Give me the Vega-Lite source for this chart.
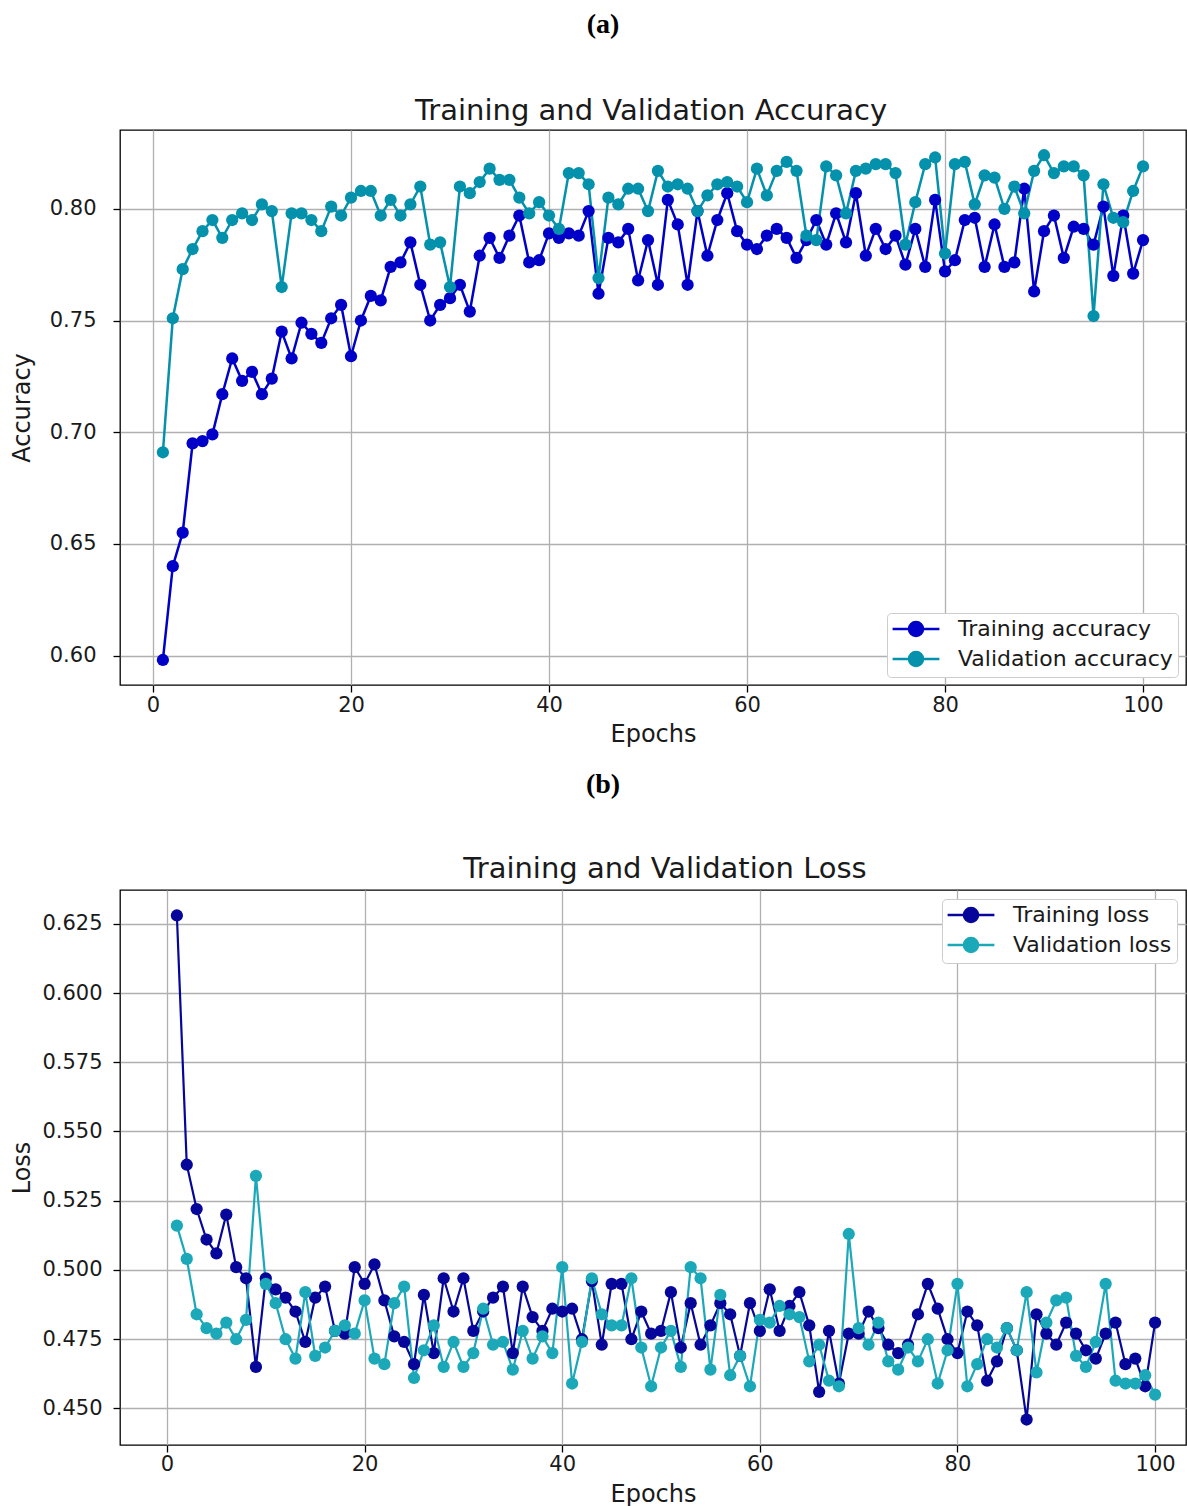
{
  "$schema": "https://vega.github.io/schema/vega-lite/v6.json",
  "padding": {"left": 9, "top": 11, "right": 0, "bottom": 0},
  "background": "white",
  "columns": 1,
  "spacing": 24,
  "resolve": {"scale": {"color": "independent", "x": "independent", "y": "independent"}, "legend": {"color": "independent"}},
  "config": {
    "font": "DejaVu Sans",
    "view": {"stroke": "black", "strokeWidth": 1.3},
    "axis": {"grid": true, "gridColor": "#b0b0b0", "gridWidth": 1.3, "gridOpacity": 1, "domain": false, "tickColor": "black", "tickSize": 7, "tickWidth": 1.3, "labelFontSize": 21, "labelColor": "#1a1a1a", "labelFont": "DejaVu Sans", "titleFontSize": 24, "titleFontWeight": "normal", "titleColor": "#1a1a1a", "titleFont": "DejaVu Sans", "labelFlush": false},
    "legend": {"title": null, "labelFontSize": 22, "labelFont": "DejaVu Sans", "labelColor": "#1a1a1a", "labelLimit": 0, "padding": 5, "strokeColor": "#cccccc", "fillColor": "white", "cornerRadius": 4, "rowPadding": 4, "labelOffset": 31, "symbolOffset": 13, "symbolStrokeWidth": 2.5, "symbolSize": 324, "symbolType": "M-2.6,0L2.6,0M-0.78,0A0.78,0.78,0,1,0,0.78,0A0.78,0.78,0,1,0,-0.78,0"}
  },
  "datasets": {
    "acc": [
      {"epoch":1,"value":0.598,"series":"Training accuracy"},{"epoch":2,"value":0.640,"series":"Training accuracy"},{"epoch":3,"value":0.655,"series":"Training accuracy"},{"epoch":4,"value":0.695,"series":"Training accuracy"},{"epoch":5,"value":0.696,"series":"Training accuracy"},{"epoch":6,"value":0.699,"series":"Training accuracy"},{"epoch":7,"value":0.717,"series":"Training accuracy"},{"epoch":8,"value":0.733,"series":"Training accuracy"},{"epoch":9,"value":0.723,"series":"Training accuracy"},{"epoch":10,"value":0.727,"series":"Training accuracy"},
      {"epoch":11,"value":0.717,"series":"Training accuracy"},{"epoch":12,"value":0.724,"series":"Training accuracy"},{"epoch":13,"value":0.745,"series":"Training accuracy"},{"epoch":14,"value":0.733,"series":"Training accuracy"},{"epoch":15,"value":0.749,"series":"Training accuracy"},{"epoch":16,"value":0.744,"series":"Training accuracy"},{"epoch":17,"value":0.740,"series":"Training accuracy"},{"epoch":18,"value":0.751,"series":"Training accuracy"},{"epoch":19,"value":0.757,"series":"Training accuracy"},{"epoch":20,"value":0.734,"series":"Training accuracy"},
      {"epoch":21,"value":0.750,"series":"Training accuracy"},{"epoch":22,"value":0.761,"series":"Training accuracy"},{"epoch":23,"value":0.759,"series":"Training accuracy"},{"epoch":24,"value":0.774,"series":"Training accuracy"},{"epoch":25,"value":0.776,"series":"Training accuracy"},{"epoch":26,"value":0.785,"series":"Training accuracy"},{"epoch":27,"value":0.766,"series":"Training accuracy"},{"epoch":28,"value":0.750,"series":"Training accuracy"},{"epoch":29,"value":0.757,"series":"Training accuracy"},{"epoch":30,"value":0.760,"series":"Training accuracy"},
      {"epoch":31,"value":0.766,"series":"Training accuracy"},{"epoch":32,"value":0.754,"series":"Training accuracy"},{"epoch":33,"value":0.779,"series":"Training accuracy"},{"epoch":34,"value":0.787,"series":"Training accuracy"},{"epoch":35,"value":0.778,"series":"Training accuracy"},{"epoch":36,"value":0.788,"series":"Training accuracy"},{"epoch":37,"value":0.797,"series":"Training accuracy"},{"epoch":38,"value":0.776,"series":"Training accuracy"},{"epoch":39,"value":0.777,"series":"Training accuracy"},{"epoch":40,"value":0.789,"series":"Training accuracy"},
      {"epoch":41,"value":0.787,"series":"Training accuracy"},{"epoch":42,"value":0.789,"series":"Training accuracy"},{"epoch":43,"value":0.788,"series":"Training accuracy"},{"epoch":44,"value":0.799,"series":"Training accuracy"},{"epoch":45,"value":0.762,"series":"Training accuracy"},{"epoch":46,"value":0.787,"series":"Training accuracy"},{"epoch":47,"value":0.785,"series":"Training accuracy"},{"epoch":48,"value":0.791,"series":"Training accuracy"},{"epoch":49,"value":0.768,"series":"Training accuracy"},{"epoch":50,"value":0.786,"series":"Training accuracy"},
      {"epoch":51,"value":0.766,"series":"Training accuracy"},{"epoch":52,"value":0.804,"series":"Training accuracy"},{"epoch":53,"value":0.793,"series":"Training accuracy"},{"epoch":54,"value":0.766,"series":"Training accuracy"},{"epoch":55,"value":0.799,"series":"Training accuracy"},{"epoch":56,"value":0.779,"series":"Training accuracy"},{"epoch":57,"value":0.795,"series":"Training accuracy"},{"epoch":58,"value":0.807,"series":"Training accuracy"},{"epoch":59,"value":0.790,"series":"Training accuracy"},{"epoch":60,"value":0.784,"series":"Training accuracy"},
      {"epoch":61,"value":0.782,"series":"Training accuracy"},{"epoch":62,"value":0.788,"series":"Training accuracy"},{"epoch":63,"value":0.791,"series":"Training accuracy"},{"epoch":64,"value":0.787,"series":"Training accuracy"},{"epoch":65,"value":0.778,"series":"Training accuracy"},{"epoch":66,"value":0.786,"series":"Training accuracy"},{"epoch":67,"value":0.795,"series":"Training accuracy"},{"epoch":68,"value":0.784,"series":"Training accuracy"},{"epoch":69,"value":0.798,"series":"Training accuracy"},{"epoch":70,"value":0.785,"series":"Training accuracy"},
      {"epoch":71,"value":0.807,"series":"Training accuracy"},{"epoch":72,"value":0.779,"series":"Training accuracy"},{"epoch":73,"value":0.791,"series":"Training accuracy"},{"epoch":74,"value":0.782,"series":"Training accuracy"},{"epoch":75,"value":0.788,"series":"Training accuracy"},{"epoch":76,"value":0.775,"series":"Training accuracy"},{"epoch":77,"value":0.791,"series":"Training accuracy"},{"epoch":78,"value":0.774,"series":"Training accuracy"},{"epoch":79,"value":0.804,"series":"Training accuracy"},{"epoch":80,"value":0.772,"series":"Training accuracy"},
      {"epoch":81,"value":0.777,"series":"Training accuracy"},{"epoch":82,"value":0.795,"series":"Training accuracy"},{"epoch":83,"value":0.796,"series":"Training accuracy"},{"epoch":84,"value":0.774,"series":"Training accuracy"},{"epoch":85,"value":0.793,"series":"Training accuracy"},{"epoch":86,"value":0.774,"series":"Training accuracy"},{"epoch":87,"value":0.776,"series":"Training accuracy"},{"epoch":88,"value":0.809,"series":"Training accuracy"},{"epoch":89,"value":0.763,"series":"Training accuracy"},{"epoch":90,"value":0.790,"series":"Training accuracy"},
      {"epoch":91,"value":0.797,"series":"Training accuracy"},{"epoch":92,"value":0.778,"series":"Training accuracy"},{"epoch":93,"value":0.792,"series":"Training accuracy"},{"epoch":94,"value":0.791,"series":"Training accuracy"},{"epoch":95,"value":0.784,"series":"Training accuracy"},{"epoch":96,"value":0.801,"series":"Training accuracy"},{"epoch":97,"value":0.770,"series":"Training accuracy"},{"epoch":98,"value":0.797,"series":"Training accuracy"},{"epoch":99,"value":0.771,"series":"Training accuracy"},{"epoch":100,"value":0.786,"series":"Training accuracy"},
      {"epoch":1,"value":0.691,"series":"Validation accuracy"},{"epoch":2,"value":0.751,"series":"Validation accuracy"},{"epoch":3,"value":0.773,"series":"Validation accuracy"},{"epoch":4,"value":0.782,"series":"Validation accuracy"},{"epoch":5,"value":0.790,"series":"Validation accuracy"},{"epoch":6,"value":0.795,"series":"Validation accuracy"},{"epoch":7,"value":0.787,"series":"Validation accuracy"},{"epoch":8,"value":0.795,"series":"Validation accuracy"},{"epoch":9,"value":0.798,"series":"Validation accuracy"},{"epoch":10,"value":0.795,"series":"Validation accuracy"},
      {"epoch":11,"value":0.802,"series":"Validation accuracy"},{"epoch":12,"value":0.799,"series":"Validation accuracy"},{"epoch":13,"value":0.765,"series":"Validation accuracy"},{"epoch":14,"value":0.798,"series":"Validation accuracy"},{"epoch":15,"value":0.798,"series":"Validation accuracy"},{"epoch":16,"value":0.795,"series":"Validation accuracy"},{"epoch":17,"value":0.790,"series":"Validation accuracy"},{"epoch":18,"value":0.801,"series":"Validation accuracy"},{"epoch":19,"value":0.797,"series":"Validation accuracy"},{"epoch":20,"value":0.805,"series":"Validation accuracy"},
      {"epoch":21,"value":0.808,"series":"Validation accuracy"},{"epoch":22,"value":0.808,"series":"Validation accuracy"},{"epoch":23,"value":0.797,"series":"Validation accuracy"},{"epoch":24,"value":0.804,"series":"Validation accuracy"},{"epoch":25,"value":0.797,"series":"Validation accuracy"},{"epoch":26,"value":0.802,"series":"Validation accuracy"},{"epoch":27,"value":0.810,"series":"Validation accuracy"},{"epoch":28,"value":0.784,"series":"Validation accuracy"},{"epoch":29,"value":0.785,"series":"Validation accuracy"},{"epoch":30,"value":0.765,"series":"Validation accuracy"},
      {"epoch":31,"value":0.810,"series":"Validation accuracy"},{"epoch":32,"value":0.807,"series":"Validation accuracy"},{"epoch":33,"value":0.812,"series":"Validation accuracy"},{"epoch":34,"value":0.818,"series":"Validation accuracy"},{"epoch":35,"value":0.813,"series":"Validation accuracy"},{"epoch":36,"value":0.813,"series":"Validation accuracy"},{"epoch":37,"value":0.805,"series":"Validation accuracy"},{"epoch":38,"value":0.798,"series":"Validation accuracy"},{"epoch":39,"value":0.803,"series":"Validation accuracy"},{"epoch":40,"value":0.797,"series":"Validation accuracy"},
      {"epoch":41,"value":0.791,"series":"Validation accuracy"},{"epoch":42,"value":0.816,"series":"Validation accuracy"},{"epoch":43,"value":0.816,"series":"Validation accuracy"},{"epoch":44,"value":0.811,"series":"Validation accuracy"},{"epoch":45,"value":0.769,"series":"Validation accuracy"},{"epoch":46,"value":0.805,"series":"Validation accuracy"},{"epoch":47,"value":0.802,"series":"Validation accuracy"},{"epoch":48,"value":0.809,"series":"Validation accuracy"},{"epoch":49,"value":0.809,"series":"Validation accuracy"},{"epoch":50,"value":0.799,"series":"Validation accuracy"},
      {"epoch":51,"value":0.817,"series":"Validation accuracy"},{"epoch":52,"value":0.810,"series":"Validation accuracy"},{"epoch":53,"value":0.811,"series":"Validation accuracy"},{"epoch":54,"value":0.809,"series":"Validation accuracy"},{"epoch":55,"value":0.799,"series":"Validation accuracy"},{"epoch":56,"value":0.806,"series":"Validation accuracy"},{"epoch":57,"value":0.811,"series":"Validation accuracy"},{"epoch":58,"value":0.812,"series":"Validation accuracy"},{"epoch":59,"value":0.810,"series":"Validation accuracy"},{"epoch":60,"value":0.803,"series":"Validation accuracy"},
      {"epoch":61,"value":0.818,"series":"Validation accuracy"},{"epoch":62,"value":0.806,"series":"Validation accuracy"},{"epoch":63,"value":0.817,"series":"Validation accuracy"},{"epoch":64,"value":0.821,"series":"Validation accuracy"},{"epoch":65,"value":0.817,"series":"Validation accuracy"},{"epoch":66,"value":0.788,"series":"Validation accuracy"},{"epoch":67,"value":0.786,"series":"Validation accuracy"},{"epoch":68,"value":0.819,"series":"Validation accuracy"},{"epoch":69,"value":0.815,"series":"Validation accuracy"},{"epoch":70,"value":0.798,"series":"Validation accuracy"},
      {"epoch":71,"value":0.817,"series":"Validation accuracy"},{"epoch":72,"value":0.818,"series":"Validation accuracy"},{"epoch":73,"value":0.820,"series":"Validation accuracy"},{"epoch":74,"value":0.820,"series":"Validation accuracy"},{"epoch":75,"value":0.816,"series":"Validation accuracy"},{"epoch":76,"value":0.784,"series":"Validation accuracy"},{"epoch":77,"value":0.803,"series":"Validation accuracy"},{"epoch":78,"value":0.820,"series":"Validation accuracy"},{"epoch":79,"value":0.823,"series":"Validation accuracy"},{"epoch":80,"value":0.780,"series":"Validation accuracy"},
      {"epoch":81,"value":0.820,"series":"Validation accuracy"},{"epoch":82,"value":0.821,"series":"Validation accuracy"},{"epoch":83,"value":0.802,"series":"Validation accuracy"},{"epoch":84,"value":0.815,"series":"Validation accuracy"},{"epoch":85,"value":0.814,"series":"Validation accuracy"},{"epoch":86,"value":0.800,"series":"Validation accuracy"},{"epoch":87,"value":0.810,"series":"Validation accuracy"},{"epoch":88,"value":0.798,"series":"Validation accuracy"},{"epoch":89,"value":0.817,"series":"Validation accuracy"},{"epoch":90,"value":0.824,"series":"Validation accuracy"},
      {"epoch":91,"value":0.816,"series":"Validation accuracy"},{"epoch":92,"value":0.819,"series":"Validation accuracy"},{"epoch":93,"value":0.819,"series":"Validation accuracy"},{"epoch":94,"value":0.815,"series":"Validation accuracy"},{"epoch":95,"value":0.752,"series":"Validation accuracy"},{"epoch":96,"value":0.811,"series":"Validation accuracy"},{"epoch":97,"value":0.796,"series":"Validation accuracy"},{"epoch":98,"value":0.794,"series":"Validation accuracy"},{"epoch":99,"value":0.808,"series":"Validation accuracy"},{"epoch":100,"value":0.819,"series":"Validation accuracy"}
    ],
    "loss": [
      {"epoch":1,"value":0.628,"series":"Training loss"},{"epoch":2,"value":0.538,"series":"Training loss"},{"epoch":3,"value":0.522,"series":"Training loss"},{"epoch":4,"value":0.511,"series":"Training loss"},{"epoch":5,"value":0.506,"series":"Training loss"},{"epoch":6,"value":0.520,"series":"Training loss"},{"epoch":7,"value":0.501,"series":"Training loss"},{"epoch":8,"value":0.497,"series":"Training loss"},{"epoch":9,"value":0.465,"series":"Training loss"},{"epoch":10,"value":0.497,"series":"Training loss"},
      {"epoch":11,"value":0.493,"series":"Training loss"},{"epoch":12,"value":0.490,"series":"Training loss"},{"epoch":13,"value":0.485,"series":"Training loss"},{"epoch":14,"value":0.474,"series":"Training loss"},{"epoch":15,"value":0.490,"series":"Training loss"},{"epoch":16,"value":0.494,"series":"Training loss"},{"epoch":17,"value":0.478,"series":"Training loss"},{"epoch":18,"value":0.477,"series":"Training loss"},{"epoch":19,"value":0.501,"series":"Training loss"},{"epoch":20,"value":0.495,"series":"Training loss"},
      {"epoch":21,"value":0.502,"series":"Training loss"},{"epoch":22,"value":0.489,"series":"Training loss"},{"epoch":23,"value":0.476,"series":"Training loss"},{"epoch":24,"value":0.474,"series":"Training loss"},{"epoch":25,"value":0.466,"series":"Training loss"},{"epoch":26,"value":0.491,"series":"Training loss"},{"epoch":27,"value":0.470,"series":"Training loss"},{"epoch":28,"value":0.497,"series":"Training loss"},{"epoch":29,"value":0.485,"series":"Training loss"},{"epoch":30,"value":0.497,"series":"Training loss"},
      {"epoch":31,"value":0.478,"series":"Training loss"},{"epoch":32,"value":0.485,"series":"Training loss"},{"epoch":33,"value":0.490,"series":"Training loss"},{"epoch":34,"value":0.494,"series":"Training loss"},{"epoch":35,"value":0.470,"series":"Training loss"},{"epoch":36,"value":0.494,"series":"Training loss"},{"epoch":37,"value":0.483,"series":"Training loss"},{"epoch":38,"value":0.478,"series":"Training loss"},{"epoch":39,"value":0.486,"series":"Training loss"},{"epoch":40,"value":0.485,"series":"Training loss"},
      {"epoch":41,"value":0.486,"series":"Training loss"},{"epoch":42,"value":0.475,"series":"Training loss"},{"epoch":43,"value":0.496,"series":"Training loss"},{"epoch":44,"value":0.473,"series":"Training loss"},{"epoch":45,"value":0.495,"series":"Training loss"},{"epoch":46,"value":0.495,"series":"Training loss"},{"epoch":47,"value":0.475,"series":"Training loss"},{"epoch":48,"value":0.485,"series":"Training loss"},{"epoch":49,"value":0.477,"series":"Training loss"},{"epoch":50,"value":0.478,"series":"Training loss"},
      {"epoch":51,"value":0.492,"series":"Training loss"},{"epoch":52,"value":0.472,"series":"Training loss"},{"epoch":53,"value":0.488,"series":"Training loss"},{"epoch":54,"value":0.473,"series":"Training loss"},{"epoch":55,"value":0.480,"series":"Training loss"},{"epoch":56,"value":0.488,"series":"Training loss"},{"epoch":57,"value":0.484,"series":"Training loss"},{"epoch":58,"value":0.469,"series":"Training loss"},{"epoch":59,"value":0.488,"series":"Training loss"},{"epoch":60,"value":0.478,"series":"Training loss"},
      {"epoch":61,"value":0.493,"series":"Training loss"},{"epoch":62,"value":0.478,"series":"Training loss"},{"epoch":63,"value":0.487,"series":"Training loss"},{"epoch":64,"value":0.492,"series":"Training loss"},{"epoch":65,"value":0.480,"series":"Training loss"},{"epoch":66,"value":0.456,"series":"Training loss"},{"epoch":67,"value":0.478,"series":"Training loss"},{"epoch":68,"value":0.459,"series":"Training loss"},{"epoch":69,"value":0.477,"series":"Training loss"},{"epoch":70,"value":0.477,"series":"Training loss"},
      {"epoch":71,"value":0.485,"series":"Training loss"},{"epoch":72,"value":0.479,"series":"Training loss"},{"epoch":73,"value":0.473,"series":"Training loss"},{"epoch":74,"value":0.470,"series":"Training loss"},{"epoch":75,"value":0.473,"series":"Training loss"},{"epoch":76,"value":0.484,"series":"Training loss"},{"epoch":77,"value":0.495,"series":"Training loss"},{"epoch":78,"value":0.486,"series":"Training loss"},{"epoch":79,"value":0.475,"series":"Training loss"},{"epoch":80,"value":0.470,"series":"Training loss"},
      {"epoch":81,"value":0.485,"series":"Training loss"},{"epoch":82,"value":0.480,"series":"Training loss"},{"epoch":83,"value":0.460,"series":"Training loss"},{"epoch":84,"value":0.467,"series":"Training loss"},{"epoch":85,"value":0.479,"series":"Training loss"},{"epoch":86,"value":0.471,"series":"Training loss"},{"epoch":87,"value":0.446,"series":"Training loss"},{"epoch":88,"value":0.484,"series":"Training loss"},{"epoch":89,"value":0.477,"series":"Training loss"},{"epoch":90,"value":0.473,"series":"Training loss"},
      {"epoch":91,"value":0.481,"series":"Training loss"},{"epoch":92,"value":0.477,"series":"Training loss"},{"epoch":93,"value":0.471,"series":"Training loss"},{"epoch":94,"value":0.468,"series":"Training loss"},{"epoch":95,"value":0.477,"series":"Training loss"},{"epoch":96,"value":0.481,"series":"Training loss"},{"epoch":97,"value":0.466,"series":"Training loss"},{"epoch":98,"value":0.468,"series":"Training loss"},{"epoch":99,"value":0.458,"series":"Training loss"},{"epoch":100,"value":0.481,"series":"Training loss"},
      {"epoch":1,"value":0.516,"series":"Validation loss"},{"epoch":2,"value":0.504,"series":"Validation loss"},{"epoch":3,"value":0.484,"series":"Validation loss"},{"epoch":4,"value":0.479,"series":"Validation loss"},{"epoch":5,"value":0.477,"series":"Validation loss"},{"epoch":6,"value":0.481,"series":"Validation loss"},{"epoch":7,"value":0.475,"series":"Validation loss"},{"epoch":8,"value":0.482,"series":"Validation loss"},{"epoch":9,"value":0.534,"series":"Validation loss"},{"epoch":10,"value":0.495,"series":"Validation loss"},
      {"epoch":11,"value":0.488,"series":"Validation loss"},{"epoch":12,"value":0.475,"series":"Validation loss"},{"epoch":13,"value":0.468,"series":"Validation loss"},{"epoch":14,"value":0.492,"series":"Validation loss"},{"epoch":15,"value":0.469,"series":"Validation loss"},{"epoch":16,"value":0.472,"series":"Validation loss"},{"epoch":17,"value":0.478,"series":"Validation loss"},{"epoch":18,"value":0.480,"series":"Validation loss"},{"epoch":19,"value":0.477,"series":"Validation loss"},{"epoch":20,"value":0.489,"series":"Validation loss"},
      {"epoch":21,"value":0.468,"series":"Validation loss"},{"epoch":22,"value":0.466,"series":"Validation loss"},{"epoch":23,"value":0.488,"series":"Validation loss"},{"epoch":24,"value":0.494,"series":"Validation loss"},{"epoch":25,"value":0.461,"series":"Validation loss"},{"epoch":26,"value":0.471,"series":"Validation loss"},{"epoch":27,"value":0.480,"series":"Validation loss"},{"epoch":28,"value":0.465,"series":"Validation loss"},{"epoch":29,"value":0.474,"series":"Validation loss"},{"epoch":30,"value":0.465,"series":"Validation loss"},
      {"epoch":31,"value":0.470,"series":"Validation loss"},{"epoch":32,"value":0.486,"series":"Validation loss"},{"epoch":33,"value":0.473,"series":"Validation loss"},{"epoch":34,"value":0.474,"series":"Validation loss"},{"epoch":35,"value":0.464,"series":"Validation loss"},{"epoch":36,"value":0.478,"series":"Validation loss"},{"epoch":37,"value":0.468,"series":"Validation loss"},{"epoch":38,"value":0.476,"series":"Validation loss"},{"epoch":39,"value":0.470,"series":"Validation loss"},{"epoch":40,"value":0.501,"series":"Validation loss"},
      {"epoch":41,"value":0.459,"series":"Validation loss"},{"epoch":42,"value":0.474,"series":"Validation loss"},{"epoch":43,"value":0.497,"series":"Validation loss"},{"epoch":44,"value":0.484,"series":"Validation loss"},{"epoch":45,"value":0.480,"series":"Validation loss"},{"epoch":46,"value":0.480,"series":"Validation loss"},{"epoch":47,"value":0.497,"series":"Validation loss"},{"epoch":48,"value":0.472,"series":"Validation loss"},{"epoch":49,"value":0.458,"series":"Validation loss"},{"epoch":50,"value":0.472,"series":"Validation loss"},
      {"epoch":51,"value":0.478,"series":"Validation loss"},{"epoch":52,"value":0.465,"series":"Validation loss"},{"epoch":53,"value":0.501,"series":"Validation loss"},{"epoch":54,"value":0.497,"series":"Validation loss"},{"epoch":55,"value":0.464,"series":"Validation loss"},{"epoch":56,"value":0.491,"series":"Validation loss"},{"epoch":57,"value":0.462,"series":"Validation loss"},{"epoch":58,"value":0.469,"series":"Validation loss"},{"epoch":59,"value":0.458,"series":"Validation loss"},{"epoch":60,"value":0.482,"series":"Validation loss"},
      {"epoch":61,"value":0.481,"series":"Validation loss"},{"epoch":62,"value":0.487,"series":"Validation loss"},{"epoch":63,"value":0.484,"series":"Validation loss"},{"epoch":64,"value":0.483,"series":"Validation loss"},{"epoch":65,"value":0.467,"series":"Validation loss"},{"epoch":66,"value":0.473,"series":"Validation loss"},{"epoch":67,"value":0.460,"series":"Validation loss"},{"epoch":68,"value":0.458,"series":"Validation loss"},{"epoch":69,"value":0.513,"series":"Validation loss"},{"epoch":70,"value":0.479,"series":"Validation loss"},
      {"epoch":71,"value":0.473,"series":"Validation loss"},{"epoch":72,"value":0.481,"series":"Validation loss"},{"epoch":73,"value":0.467,"series":"Validation loss"},{"epoch":74,"value":0.464,"series":"Validation loss"},{"epoch":75,"value":0.472,"series":"Validation loss"},{"epoch":76,"value":0.467,"series":"Validation loss"},{"epoch":77,"value":0.475,"series":"Validation loss"},{"epoch":78,"value":0.459,"series":"Validation loss"},{"epoch":79,"value":0.471,"series":"Validation loss"},{"epoch":80,"value":0.495,"series":"Validation loss"},
      {"epoch":81,"value":0.458,"series":"Validation loss"},{"epoch":82,"value":0.466,"series":"Validation loss"},{"epoch":83,"value":0.475,"series":"Validation loss"},{"epoch":84,"value":0.472,"series":"Validation loss"},{"epoch":85,"value":0.479,"series":"Validation loss"},{"epoch":86,"value":0.471,"series":"Validation loss"},{"epoch":87,"value":0.492,"series":"Validation loss"},{"epoch":88,"value":0.463,"series":"Validation loss"},{"epoch":89,"value":0.481,"series":"Validation loss"},{"epoch":90,"value":0.489,"series":"Validation loss"},
      {"epoch":91,"value":0.490,"series":"Validation loss"},{"epoch":92,"value":0.469,"series":"Validation loss"},{"epoch":93,"value":0.465,"series":"Validation loss"},{"epoch":94,"value":0.474,"series":"Validation loss"},{"epoch":95,"value":0.495,"series":"Validation loss"},{"epoch":96,"value":0.460,"series":"Validation loss"},{"epoch":97,"value":0.459,"series":"Validation loss"},{"epoch":98,"value":0.459,"series":"Validation loss"},{"epoch":99,"value":0.462,"series":"Validation loss"},{"epoch":100,"value":0.455,"series":"Validation loss"}
    ]
  },
  "concat": [
    {
      "title": {"text": "(a)", "font": "Liberation Serif", "fontSize": 28, "fontWeight": "bold", "color": "black", "anchor": "middle", "offset": 57, "dx": 5},
      "resolve": {"scale": {"color": "independent"}, "legend": {"color": "independent"}},
      "vconcat": [
        {
          "width": 1066,
          "height": 555,
          "title": {"text": "Training and Validation Accuracy", "font": "DejaVu Sans", "fontSize": 29, "fontWeight": "normal", "color": "#1a1a1a", "anchor": "middle", "frame": "group", "offset": 4, "dx": -2},
          "data": {"name": "acc"},
          "encoding": {
            "x": {"field": "epoch", "type": "quantitative", "scale": {"domain": [-3.333, 104.34], "nice": false, "zero": false}, "axis": {"values": [0, 20, 40, 60, 80, 100], "title": "Epochs", "labelPadding": 2, "titlePadding": 7}},
            "y": {"field": "value", "type": "quantitative", "scale": {"domain": [0.5868, 0.8353], "nice": false, "zero": false}, "axis": {"values": [0.6, 0.65, 0.7, 0.75, 0.8], "format": ".2f", "title": "Accuracy", "labelPadding": 17, "titlePadding": 17, "minExtent": 69, "maxExtent": 69}},
            "color": {"field": "series", "type": "nominal", "scale": {"domain": ["Training accuracy", "Validation accuracy"], "range": ["#0000c8", "#0391ac"]},
              "legend": {"orient": "bottom-right", "offset": 8, "encode": {"symbols": {"update": {"fill": {"signal": "datum.value === 'Training accuracy' ? '#0000c8' : '#0391ac'"}, "stroke": {"signal": "datum.value === 'Training accuracy' ? '#0000c8' : '#0391ac'"}, "opacity": {"value": 1}}}}}}
          },
          "layer": [
            {"mark": {"type": "line", "strokeWidth": 2.5}},
            {"mark": {"type": "point", "filled": true, "size": 150, "opacity": 1}}
          ]
        }
      ]
    },
    {
      "title": {"text": "(b)", "font": "Liberation Serif", "fontSize": 28, "fontWeight": "bold", "color": "black", "anchor": "middle", "offset": 55, "dx": 5},
      "resolve": {"scale": {"color": "independent"}, "legend": {"color": "independent"}},
      "vconcat": [
        {
          "width": 1066,
          "height": 555,
          "title": {"text": "Training and Validation Loss", "font": "DejaVu Sans", "fontSize": 29, "fontWeight": "normal", "color": "#1a1a1a", "anchor": "middle", "frame": "group", "offset": 6, "dx": 12},
          "data": {"name": "loss"},
          "encoding": {
            "x": {"field": "epoch", "type": "quantitative", "scale": {"domain": [-4.757, 103.13], "nice": false, "zero": false}, "axis": {"values": [0, 20, 40, 60, 80, 100], "title": "Epochs", "labelPadding": 1, "titlePadding": 8}},
            "y": {"field": "value", "type": "quantitative", "scale": {"domain": [0.4368, 0.6372], "nice": false, "zero": false}, "axis": {"values": [0.45, 0.475, 0.5, 0.525, 0.55, 0.575, 0.6, 0.625], "format": ".3f", "title": "Loss", "labelPadding": 11, "titlePadding": 8, "minExtent": 78, "maxExtent": 78}},
            "color": {"field": "series", "type": "nominal", "scale": {"domain": ["Training loss", "Validation loss"], "range": ["#06069a", "#1ba8b8"]},
              "legend": {"orient": "top-right", "offset": 9, "encode": {"symbols": {"update": {"fill": {"signal": "datum.value === 'Training loss' ? '#0000b0' : '#129fb0'"}, "stroke": {"signal": "datum.value === 'Training loss' ? '#06069a' : '#1ba8b8'"}, "opacity": {"value": 1}}}}}}
          },
          "layer": [
            {"mark": {"type": "line", "strokeWidth": 2.2}},
            {"mark": {"type": "point", "filled": true, "size": 150, "opacity": 1}}
          ]
        }
      ]
    }
  ]
}
